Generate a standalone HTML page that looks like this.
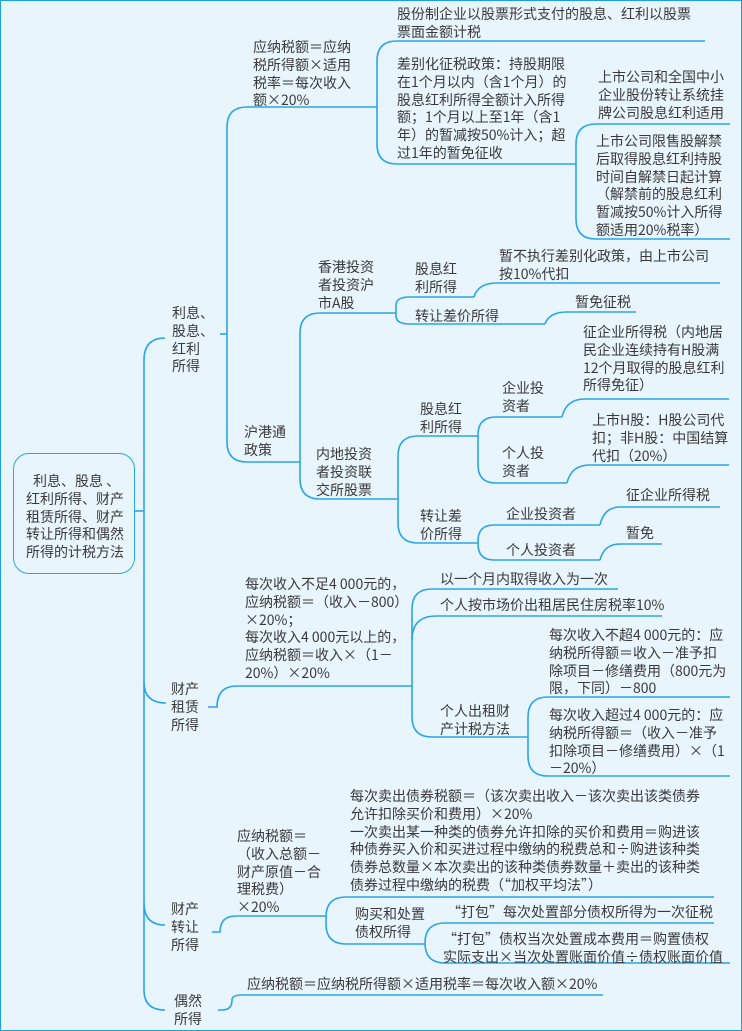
<!DOCTYPE html>
<html><head><meta charset="utf-8"><style>
html,body{margin:0;padding:0}
body{width:742px;height:1031px;position:relative;overflow:hidden;background:#e8f5fd;font-family:"Noto Sans CJK SC","Liberation Sans",sans-serif;color:#3a3a3a;font-size:14px}
.f{position:absolute;inset:0;border:1.5px solid #1ea0e6;box-sizing:border-box}
.t{position:absolute;line-height:17.8px;white-space:nowrap}
svg{position:absolute;left:0;top:0}
.box{position:absolute;left:13px;top:453px;width:122px;height:121px;border:1.5px solid #29a6e8;border-radius:16px;box-sizing:border-box}
</style></head><body>
<div class="f"></div>
<svg width="742" height="1031" fill="none" stroke="#2aa6e6" stroke-width="1.6">
<path d="M135,511 L144,511"/>
<path d="M165,338 Q144,338 144,360 L144,990 Q144,1010 165,1010"/>
<path d="M144,682 Q144,703 166,703"/>
<path d="M144,903 Q144,925 165,925"/>
<path d="M220,334 L227,334"/>
<path d="M377,107 L247,107 Q227,107 227,127 L227,442 Q227,462 247,462 L300,462"/>
<path d="M705,41 L397,41 Q377,41 377,61 L377,144 Q377,164 397,164 L576,164"/>
<path d="M730,124 L596,124 Q576,124 576,144 L576,219 Q576,239 596,239 L730,239"/>
<path d="M396,313 L320,313 Q300,313 300,333 L300,479 Q300,499 320,499 L398,499"/>
<path d="M474,297 L410,297 Q396,297 396,305 L396,316 Q396,324 410,324 L545,324"/>
<path d="M474,297 Q478,283 497,283 L720,283"/>
<path d="M545,324 Q549,312 567,312 L636,312"/>
<path d="M478,436 L418,436 Q398,436 398,456 L398,523 Q398,543 418,543 L478,543"/>
<path d="M562,417 L496,417 Q478,417 478,435 L478,465 Q478,483 496,483 L567,483"/>
<path d="M562,417 Q566,399 585,399 L729,399"/>
<path d="M567,483 Q571,465 590,465 L729,465"/>
<path d="M600,525 L494,525 Q478,525 478,541 L478,544 Q478,560 494,560 L600,560"/>
<path d="M600,525 Q604,507 620,507 L720,507"/>
<path d="M600,560 Q604,544 620,544 L662,544"/>
<path d="M208,707 L217,707 Q217,686 237,686 L412,686"/>
<path d="M618,589 L432,589 Q412,589 412,609 L412,717 Q412,737 432,737 L528,737"/>
<path d="M412,640 Q412,616 436,616 L662,616"/>
<path d="M730,697 L548,697 Q528,697 528,717 L528,756 Q528,776 548,776 L730,776"/>
<path d="M212,932 L220,932 Q220,916 236,916 L326,916"/>
<path d="M714,897 L346,897 Q326,897 326,917 L326,924 Q326,944 346,944 L425,944"/>
<path d="M714,923 L445,923 Q425,923 425,943 Q425,963 445,963 L730,963"/>
<path d="M218,1010 L222,1010 Q232,1010 232,1000 Q232,995 242,995 L603,995"/>
</svg>
<div class="box"></div>
<div class="t" style="left:14px;top:473px;width:122px;text-align:center">&nbsp;利息、股息 、<br>红利所得、财产<br>租赁所得、财产<br>转让所得和偶然<br>所得的计税方法</div>

<div class="t" style="left:172px;top:305px">利息、<br>股息、<br>红利<br>所得</div>
<div class="t" style="left:171px;top:681px">财产<br>租赁<br>所得</div>
<div class="t" style="left:171px;top:901px">财产<br>转让<br>所得</div>
<div class="t" style="left:174px;top:993px">偶然<br>所得</div>

<div class="t" style="left:253px;top:39px">应纳税额＝应纳<br>税所得额×适用<br>税率＝每次收入<br>额×20%</div>
<div class="t" style="left:397px;top:6px">股份制企业以股票形式支付的股息、红利以股票<br>票面金额计税</div>
<div class="t" style="left:397px;top:56px">差别化征税政策：持股期限<br>在1个月以内（含1个月）的<br>股息红利所得全额计入所得<br>额；1个月以上至1年（含1<br>年）的暂减按50%计入；超<br>过1年的暂免征收</div>
<div class="t" style="left:598px;top:69px">上市公司和全国中小<br>企业股份转让系统挂<br>牌公司股息红利适用</div>
<div class="t" style="left:596px;top:133px">上市公司限售股解禁<br>后取得股息红利持股<br>时间自解禁日起计算<br>（解禁前的股息红利<br>暂减按50%计入所得<br>额适用20%税率）</div>

<div class="t" style="left:244px;top:424px">沪港通<br>政策</div>
<div class="t" style="left:318px;top:259px">香港投资<br>者投资沪<br>市A股</div>
<div class="t" style="left:415px;top:261px">股息红<br>利所得</div>
<div class="t" style="left:415px;top:308px">转让差价所得</div>
<div class="t" style="left:499px;top:248px">暂不执行差别化政策，由上市公司<br>按10%代扣</div>
<div class="t" style="left:575px;top:294px">暂免征税</div>
<div class="t" style="left:316px;top:446px">内地投资<br>者投资联<br>交所股票</div>
<div class="t" style="left:420px;top:401px">股息红<br>利所得</div>
<div class="t" style="left:420px;top:508px">转让差<br>价所得</div>
<div class="t" style="left:502px;top:380px">企业投<br>资者</div>
<div class="t" style="left:502px;top:445px">个人投<br>资者</div>
<div class="t" style="left:583px;top:324px">征企业所得税（内地居<br>民企业连续持有H股满<br>12个月取得的股息红利<br>所得免征）</div>
<div class="t" style="left:592px;top:412px">上市H股：H股公司代<br>扣；非H股：中国结算<br>代扣（20%）</div>
<div class="t" style="left:506px;top:506px">企业投资者</div>
<div class="t" style="left:506px;top:542px">个人投资者</div>
<div class="t" style="left:626px;top:487px">征企业所得税</div>
<div class="t" style="left:626px;top:525px">暂免</div>

<div class="t" style="left:245px;top:576px">每次收入不足4 000元的，<br>应纳税额＝（收入－800）<br>×20%；<br>每次收入4 000元以上的，<br>应纳税额＝收入×（1－<br>20%）×20%</div>
<div class="t" style="left:440px;top:571px">以一个月内取得收入为一次</div>
<div class="t" style="left:440px;top:597px">个人按市场价出租居民住房税率10%</div>
<div class="t" style="left:440px;top:703px">个人出租财<br>产计税方法</div>
<div class="t" style="left:549px;top:627px">每次收入不超4 000元的：应<br>纳税所得额＝收入－准予扣<br>除项目－修缮费用（800元为<br>限，下同）－800</div>
<div class="t" style="left:549px;top:707px">每次收入超过4 000元的：应<br>纳税所得额＝（收入－准予<br>扣除项目－修缮费用）×（1<br>－20%）</div>

<div class="t" style="left:237px;top:828px">应纳税额＝<br>（收入总额－<br>财产原值－合<br>理税费）<br>×20%</div>
<div class="t" style="left:350px;top:788px">每次卖出债券税额＝（该次卖出收入－该次卖出该类债券<br>允许扣除买价和费用）×20%<br>一次卖出某一种类的债券允许扣除的买价和费用＝购进该<br>种债券买入价和买进过程中缴纳的税费总和÷购进该种类<br>债券总数量×本次卖出的该种类债券数量＋卖出的该种类<br>债券过程中缴纳的税费（“加权平均法”）</div>
<div class="t" style="left:355px;top:906px">购买和处置<br>债权所得</div>
<div class="t" style="left:447px;top:904px">“打包”每次处置部分债权所得为一次征税</div>
<div class="t" style="left:443px;top:931px">“打包”债权当次处置成本费用＝购置债权<br>实际支出×当次处置账面价值÷债权账面价值</div>
<div class="t" style="left:247px;top:976px">应纳税额＝应纳税所得额×适用税率＝每次收入额×20%</div>
</body></html>
